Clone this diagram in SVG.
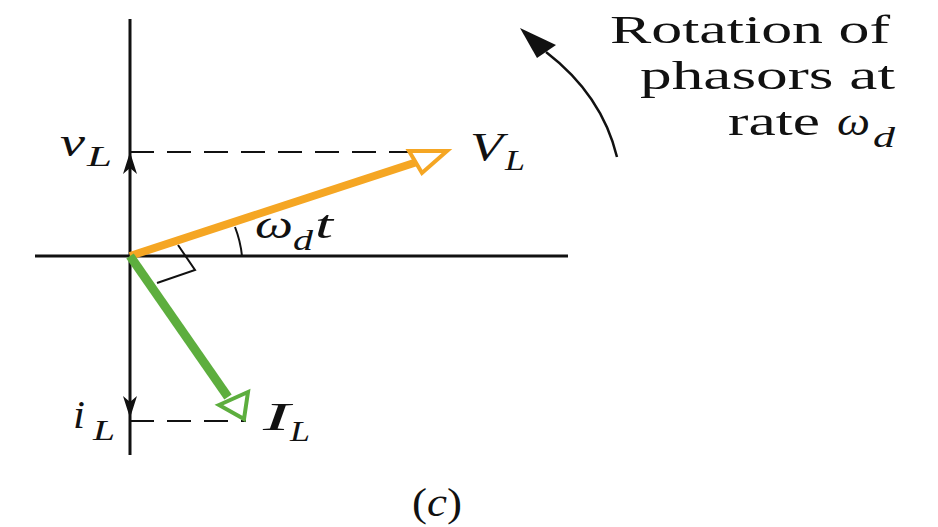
<svg xmlns="http://www.w3.org/2000/svg" width="938" height="527" viewBox="0 0 938 527">
<style>
.t{font-family:"Liberation Serif","Times New Roman",serif;fill:#111;}
.i{font-style:italic;}
.big{font-size:40px;}
.sub{font-size:30px;}
.ax{stroke:#111;stroke-width:3;fill:none;}
.dash{stroke:#111;stroke-width:2;stroke-dasharray:24 13;fill:none;}
</style>
<rect width="938" height="527" fill="#fff"/>
<g id="connectors">
<line class="ax" x1="130" y1="19" x2="130" y2="455"/>
<line class="ax" x1="35" y1="256" x2="568" y2="256"/>
<polygon points="130,152 137,174 130,168 123,174" fill="#111"/>
<polygon points="130,418 137,396 130,402 123,396" fill="#111"/>
<line class="dash" x1="130" y1="152" x2="412" y2="152"/>
<line class="dash" x1="130" y1="421" x2="246" y2="421"/>
<polyline points="178,245 195,270 157,283" fill="none" stroke="#111" stroke-width="2"/>
<path d="M235,227 A112,112 0 0 1 242,256" fill="none" stroke="#111" stroke-width="2"/>
<path d="M617,157 Q602,95 546,52" fill="none" stroke="#111" stroke-width="2.5"/>
<polygon points="520,28 537,58 556,45" fill="#111"/>
</g>
<g id="VL-phasor">
<line x1="130" y1="256" x2="417" y2="162" stroke="#F5A623" stroke-width="8"/>
<polygon points="409,151 447,151 422,173" fill="#fff" stroke="#F5A623" stroke-width="4"/>
</g>
<g id="IL-phasor">
<line x1="130" y1="256" x2="228" y2="397" stroke="#5DAE3E" stroke-width="9"/>
<polygon points="219,405 248,392 244,419" fill="#fff" stroke="#5DAE3E" stroke-width="4"/>
</g>
<g id="labels">
<text class="t i big" x="60" y="156" textLength="25" lengthAdjust="spacingAndGlyphs">v</text>
<text class="t i sub" x="87" y="166" textLength="25" lengthAdjust="spacingAndGlyphs">L</text>
<text class="t i big" x="470" y="160" textLength="33" lengthAdjust="spacingAndGlyphs">V</text>
<text class="t i sub" x="505" y="170" textLength="20" lengthAdjust="spacingAndGlyphs">L</text>
<text class="t i big" x="255" y="238" textLength="38" lengthAdjust="spacingAndGlyphs">ω</text>
<text class="t i sub" x="293" y="250" textLength="20" lengthAdjust="spacingAndGlyphs">d</text>
<text class="t i big" x="315" y="238" textLength="18" lengthAdjust="spacingAndGlyphs">t</text>
<text class="t i big" x="73" y="428" textLength="12" lengthAdjust="spacingAndGlyphs">i</text>
<text class="t i sub" x="93" y="440" textLength="22" lengthAdjust="spacingAndGlyphs">L</text>
<text class="t i big" x="263" y="430" textLength="27" lengthAdjust="spacingAndGlyphs">I</text>
<text class="t i sub" x="290" y="441" textLength="20" lengthAdjust="spacingAndGlyphs">L</text>
<text class="t big" x="610" y="43" textLength="280" lengthAdjust="spacingAndGlyphs">Rotation of</text>
<text class="t big" x="640" y="89" textLength="255" lengthAdjust="spacingAndGlyphs">phasors at</text>
<text class="t big" x="728" y="135" textLength="92" lengthAdjust="spacingAndGlyphs">rate</text>
<text class="t i big" x="837" y="135" textLength="33" lengthAdjust="spacingAndGlyphs">ω</text>
<text class="t i sub" x="873" y="147" textLength="22" lengthAdjust="spacingAndGlyphs">d</text>
<text class="t big" x="412" y="516" textLength="50" lengthAdjust="spacingAndGlyphs">(<tspan class="i">c</tspan>)</text>
</g>
</svg>
